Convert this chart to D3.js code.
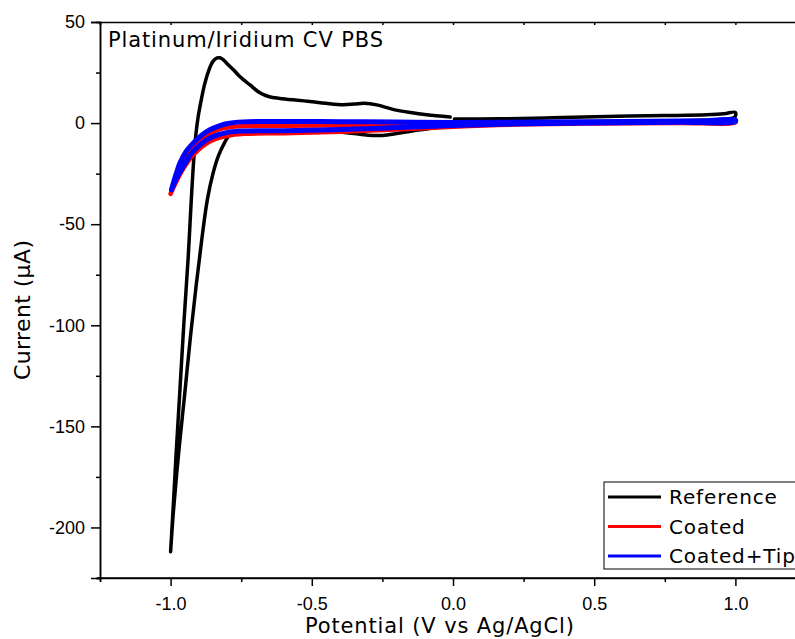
<!DOCTYPE html>
<html>
<head>
<meta charset="utf-8">
<script src="https://cdn.jsdelivr.net/npm/d3@7"></script>
<style>
  body { margin: 0; background: #fff; }
  .tick text { font-family: "Liberation Sans", Arial, sans-serif; font-size: 18px; fill: #000; }
  .lbl { font-family: "DejaVu Sans", Verdana, sans-serif; fill: #000; }
</style>
</head>
<body>
<div id="chart"></div>
<script>
// series names
var seriesNames = ["Reference", "Coated", "Coated+Tip"];
var seriesColors = ["#000000", "#ff0000", "#0000ff"];

// Reference CV loop (potential V, current uA); null marks the gap near 0 V
var refV = [-1.000, -0.990, -0.981, -0.967, -0.953, -0.938, -0.926, -0.917, -0.910, -0.902, -0.890, -0.879, -0.865, -0.850, -0.835, -0.825, -0.815, -0.797, -0.775, -0.755, -0.720, -0.684, -0.650, -0.613, -0.550, -0.507, -0.450, -0.390, -0.350, -0.313, -0.270, -0.213, -0.150, -0.093, -0.010,
            -0.003,
            0.005, 0.166, 0.350, 0.544, 0.750, 0.898, 0.960, 1.000,
            0.998, 0.950, 0.800, 0.500, 0.200, 0.050, -0.050, -0.100, -0.150, -0.200, -0.250, -0.300, -0.360, -0.420, -0.500, -0.600, -0.700, -0.760, -0.790, -0.810, -0.830, -0.850, -0.870, -0.890, -0.910, -0.930, -0.950, -0.970, -0.990, -1.000];
var refI = [-212, -188, -165, -132, -99, -67, -36, -16, -5, 3.5, 12.5, 19.5, 26, 30.5, 32.2, 32.3, 31.5, 29, 26, 23, 19, 15, 13, 12.2, 11.3, 10.7, 9.8, 9.1, 9.4, 9.8, 9.0, 6.8, 5.2, 4.1, 3.0,
            null,
            2.0, 2.1, 2.6, 3.3, 3.7, 4.1, 4.6, 5.3,
            3.0, 1.8, 1.2, 0.5, -0.5, -1.3, -2.0, -3.0, -4.0, -5.2, -6.1, -6.0, -5.0, -4.3, -4.0, -4.0, -4.5, -5.0, -5.8, -10, -16, -25, -38, -58, -81, -106, -134, -161, -192, -212];

// Coated CV loop
var coatedV = [-1.000, -0.980, -0.967, -0.945, -0.920, -0.890, -0.861, -0.830, -0.800, -0.740, -0.600, -0.400, -0.200, 0.000, 0.300, 0.600, 0.900, 1.000,
               1.000, 0.800, 0.500, 0.200, 0.000, -0.200, -0.400, -0.600, -0.740, -0.800, -0.861, -0.920, -0.955, -0.980, -1.000];
var coatedI = [-35, -27, -22, -16, -11.6, -7.5, -5.0, -3.2, -2.2, -1.5, -1.3, -1.2, -1.0, -0.5, 0.2, 0.5, 0.8, 1.0,
               0.3, 0.1, -0.2, -0.8, -1.8, -3.2, -4.3, -5.0, -5.3, -6.3, -9.1, -15.7, -22.5, -29, -35];

// Coated+Tip CV loop
var tipV = [-0.997, -0.980, -0.967, -0.945, -0.920, -0.890, -0.861, -0.830, -0.802, -0.743, -0.600, -0.400, -0.200, 0.000, 0.300, 0.600, 0.900, 1.000,
            1.000, 0.800, 0.500, 0.200, 0.000, -0.200, -0.400, -0.600, -0.743, -0.802, -0.861, -0.920, -0.955, -0.980, -0.997];
var tipI = [-33, -25, -19.8, -14, -9.9, -6, -3.3, -1.5, -0.3, 0.6, 0.8, 0.7, 0.5, 0.3, 0.5, 0.8, 1.2, 1.6,
            0.8, 0.4, 0.1, -0.4, -1.2, -2.2, -3.2, -3.8, -3.9, -4.7, -7.4, -14, -21.5, -27.5, -33];

// tick values
var xMajor = [-1.0, -0.5, 0.0, 0.5, 1.0];
var xMinor = [-1.25, -0.75, -0.25, 0.25, 0.75, 1.25];
var yMajor = [50, 0, -50, -100, -150, -200];
var yMinor = [25, -25, -75, -125, -175, -225];

var svgWidth = 795, svgHeight = 639;
var margin = { left: 100, top: 22, right: -11, bottom: 61 };
var width = svgWidth - margin.left - margin.right,
    height = svgHeight - margin.top - margin.bottom;

var svg = d3.select("#chart").append("svg")
    .attr("width", svgWidth)
    .attr("height", svgHeight);

var g = svg.append("g")
    .attr("transform", `translate(${margin.left}, ${margin.top})`);

var x = d3.scaleLinear().domain([-1.25, 1.25]).range([0, width]);
var y = d3.scaleLinear().domain([-225, 50]).range([height, 0]);

// plain hyphen-minus labels
var fmtX = d => d3.format(".1f")(d).replace("\u2212", "-");
var fmtY = d => d3.format("d")(d).replace("\u2212", "-");

function styleAxis(sel) {
  sel.select(".domain").attr("stroke", "#000").attr("stroke-width", 1.5);
  sel.selectAll(".tick line").attr("stroke", "#000").attr("stroke-width", 1.5);
}

g.append("g")
  .attr("transform", `translate(0, ${height})`)
  .call(d3.axisBottom(x).tickValues(xMinor).tickSize(4).tickFormat(""))
  .call(styleAxis);
g.append("g")
  .attr("transform", `translate(0, ${height})`)
  .call(d3.axisBottom(x).tickValues(xMajor).tickSize(8).tickPadding(11).tickFormat(fmtX))
  .call(styleAxis)
  .call(s => s.select(".domain").attr("d", `M-3,0H${width}`));

g.append("g")
  .call(d3.axisLeft(y).tickValues(yMinor).tickSize(4).tickFormat(""))
  .call(styleAxis);
g.append("g")
  .call(d3.axisLeft(y).tickValues(yMajor).tickSize(9).tickPadding(6).tickFormat(fmtY))
  .call(styleAxis);

// top border with small ticks
g.append("g")
  .call(d3.axisTop(x).tickValues(xMajor.concat(xMinor)).tickSize(-3).tickFormat(""))
  .call(styleAxis);

// curves
var line = d3.line()
  .defined(d => d[1] !== null)
  .x(d => x(d[0]))
  .y(d => y(d[1]))
  .curve(d3.curveCatmullRom.alpha(0.5));

var series = [
  { v: refV, i: refI, w: 3.5 },
  { v: coatedV, i: coatedI, w: 4.5 },
  { v: tipV, i: tipI, w: 5 }
];

series.forEach(function(s, k) {
  var pts = s.v.map((v, j) => [v, s.i[j]]);
  g.append("path")
    .datum(pts)
    .attr("fill", "none")
    .attr("stroke", seriesColors[k])
    .attr("stroke-width", s.w)
    .attr("stroke-linejoin", "round")
    .attr("stroke-linecap", "round")
    .attr("d", line);
});

// title inside plot
g.append("text")
  .attr("class", "lbl")
  .attr("x", 8)
  .attr("y", 25)
  .attr("font-size", 21)
  .attr("textLength", 275)
  .attr("lengthAdjust", "spacing")
  .text("Platinum/Iridium CV PBS");

// axis titles
svg.append("text")
  .attr("class", "lbl")
  .attr("x", 305)
  .attr("y", 633)
  .attr("font-size", 21)
  .attr("textLength", 269)
  .attr("lengthAdjust", "spacing")
  .text("Potential (V vs Ag/AgCl)");

svg.append("text")
  .attr("class", "lbl")
  .attr("transform", "translate(30, 380) rotate(-90)")
  .attr("font-size", 22)
  .attr("textLength", 140)
  .attr("lengthAdjust", "spacing")
  .text("Current (µA)");

// legend
var legend = svg.append("g").attr("transform", "translate(604, 482)");
legend.append("rect")
  .attr("width", 220)
  .attr("height", 87)
  .attr("fill", "#fff")
  .attr("stroke", "#000")
  .attr("stroke-width", 1);

seriesNames.forEach(function(name, k) {
  var row = legend.append("g").attr("transform", `translate(0, ${15 + k * 29.5})`);
  row.append("line")
    .attr("x1", 4).attr("x2", 57)
    .attr("stroke", seriesColors[k])
    .attr("stroke-width", 3);
  row.append("text")
    .attr("class", "lbl")
    .attr("x", 65)
    .attr("y", 7)
    .attr("font-size", 20)
    .attr("letter-spacing", 0.9)
    .text(name);
});
</script>
</body>
</html>
